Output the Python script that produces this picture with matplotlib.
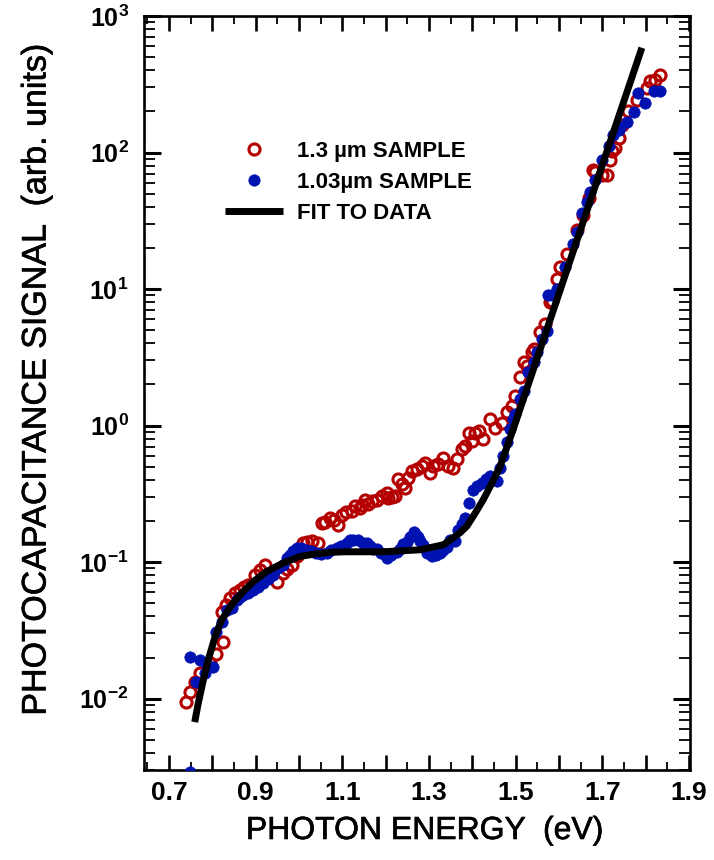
import math
import matplotlib
matplotlib.use('Agg')
import matplotlib.pyplot as plt
import matplotlib.patheffects as pe
from matplotlib.ticker import FixedLocator, FuncFormatter, LogLocator, NullFormatter
from matplotlib.lines import Line2D

plt.rcParams['font.family'] = ['Liberation Sans', 'DejaVu Sans']
plt.rcParams['mathtext.fontset'] = 'custom'
plt.rcParams['mathtext.rm'] = 'Liberation Sans'
plt.rcParams['mathtext.bf'] = 'Liberation Sans:bold'
plt.rcParams['mathtext.it'] = 'Liberation Sans:italic'

# ---------------- data ----------------
red_x = [0.740, 0.748, 0.759, 0.771, 0.794, 0.809, 0.825, 0.821, 0.831, 0.840,
         0.852, 0.863, 0.873, 0.882, 0.898, 0.909, 0.921, 0.933, 0.948, 0.963,
         0.972, 0.983, 0.995, 1.009, 1.018, 1.029, 1.044, 1.052, 1.060, 1.071,
         1.080, 1.090, 1.098, 1.108, 1.121, 1.129, 1.140, 1.144, 1.152, 1.159,
         1.167, 1.179, 1.191, 1.202, 1.206, 1.214, 1.221, 1.229, 1.237, 1.244,
         1.252, 1.260, 1.271, 1.283, 1.291, 1.302, 1.310, 1.321, 1.333, 1.344,
         1.356, 1.364, 1.375, 1.383, 1.391, 1.398, 1.406, 1.414, 1.425, 1.441,
         1.452, 1.468, 1.479, 1.491, 1.498, 1.510, 1.518, 1.525, 1.537, 1.541,
         1.556, 1.568, 1.579, 1.583, 1.595, 1.602, 1.618, 1.641, 1.656, 1.668,
         1.679, 1.683, 1.699, 1.710, 1.718, 1.722, 1.729, 1.737, 1.745, 1.760,
         1.779, 1.803, 1.810, 1.822, 1.833]
red_y = [0.00944, 0.0112, 0.01325, 0.0153, 0.0181, 0.0214, 0.0261, 0.0434, 0.0485, 0.0543,
         0.0594, 0.0625, 0.0658, 0.0681, 0.0807, 0.0878, 0.0955, 0.0807, 0.0719, 0.0830,
         0.0893, 0.0955, 0.111, 0.138, 0.141, 0.142, 0.139, 0.194, 0.198, 0.211,
         0.205, 0.188, 0.223, 0.234, 0.236, 0.256, 0.250, 0.264, 0.287, 0.268,
         0.279, 0.287, 0.303, 0.321, 0.296, 0.302, 0.303, 0.403, 0.376, 0.350,
         0.415, 0.464, 0.477, 0.505, 0.535, 0.451, 0.505, 0.519, 0.582, 0.505,
         0.491, 0.565, 0.670, 0.708, 0.889, 0.771, 0.889, 0.913, 0.792, 1.11,
         0.966, 1.05, 1.25, 1.39, 1.65, 2.26, 2.90, 2.74, 3.44, 3.64,
         4.83, 5.56, 8.02, 8.24, 11.9, 14.5, 18.2, 27.0, 34.8, 46.1,
         74.5, 72.4, 68.4, 68.4, 88.3, 102, 108, 127, 160, 200,
         244, 297, 333, 342, 372]

blue_x = [0.749, 0.748, 0.763, 0.771, 0.782, 0.786, 0.802, 0.809, 0.821, 0.833, 0.844,
          0.856, 0.863, 0.871, 0.882, 0.894, 0.905, 0.917, 0.928, 0.940, 0.952,
          0.963, 0.972, 0.979, 0.986, 0.994, 1.004, 1.017, 1.027, 1.040, 1.050,
          1.064, 1.073, 1.087, 1.097, 1.110, 1.117, 1.125, 1.136, 1.148, 1.156,
          1.164, 1.171, 1.179, 1.189, 1.202, 1.212, 1.225, 1.233, 1.240, 1.248,
          1.256, 1.264, 1.270, 1.275, 1.279, 1.287, 1.294, 1.306, 1.316, 1.325,
          1.333, 1.341, 1.348, 1.360, 1.367, 1.376, 1.383, 1.391, 1.402, 1.411,
          1.421, 1.431, 1.441, 1.456, 1.464, 1.471, 1.480, 1.487, 1.494, 1.498,
          1.510, 1.518, 1.529, 1.541, 1.548, 1.560, 1.572, 1.575, 1.583, 1.595,
          1.614, 1.633, 1.641, 1.652, 1.664, 1.672, 1.683, 1.699, 1.714, 1.725,
          1.737, 1.741, 1.756, 1.772, 1.783, 1.799, 1.818, 1.833]
blue_y = [0.0029, 0.0202, 0.0132, 0.0191, 0.0153, 0.0181, 0.0171, 0.0309, 0.0366, 0.0446, 0.0461,
          0.0528, 0.0556, 0.0575, 0.0594, 0.0625, 0.0658, 0.0701, 0.0754, 0.0807, 0.0908,
          0.0955, 0.108, 0.113, 0.121, 0.127, 0.127, 0.123, 0.121, 0.116, 0.115,
          0.116, 0.123, 0.127, 0.132, 0.139, 0.146, 0.144, 0.146, 0.139, 0.138,
          0.132, 0.125, 0.125, 0.117, 0.108, 0.113, 0.119, 0.125, 0.136, 0.141,
          0.153, 0.167, 0.159, 0.153, 0.142, 0.134, 0.116, 0.110, 0.113, 0.116,
          0.123, 0.129, 0.144, 0.142, 0.173, 0.191, 0.211, 0.272, 0.340, 0.358,
          0.381, 0.403, 0.426, 0.392, 0.493, 0.597, 0.753, 0.940, 1.11, 1.21,
          1.56, 1.79, 2.45, 2.90, 3.44, 4.31, 4.97, 8.98, 8.98, 10.0,
          14.5, 21.5, 26.2, 35.8, 43.7, 51.7, 62.9, 88.3, 111, 135,
          147, 155, 167, 198, 273, 230, 281, 281]

fit_x = [0.759, 0.767, 0.779, 0.790, 0.806, 0.821, 0.844, 0.867, 0.894, 0.925,
         0.963, 1.002, 1.040, 1.071, 1.110, 1.194, 1.279, 1.333, 1.352, 1.371,
         1.387, 1.405, 1.425, 1.445, 1.464, 1.494, 1.533, 1.791]
fit_y = [0.00673, 0.00918, 0.0137, 0.0191, 0.0284, 0.0377, 0.0485, 0.0591, 0.0719, 0.0853,
         0.0984, 0.110, 0.115, 0.118, 0.119, 0.119, 0.123, 0.134, 0.148, 0.164,
         0.183, 0.225, 0.287, 0.38, 0.505, 0.940, 2.19, 585]

x_major = [0.7, 0.8, 0.9, 1.0, 1.1, 1.2, 1.3, 1.4, 1.5, 1.6, 1.7, 1.8, 1.9]
x_labeled = ['0.7', '0.9', '1.1', '1.3', '1.5', '1.7', '1.9']
y_decades = [-2, -1, 0, 1, 2, 3]

legend_labels = ['1.3 \u00b5m SAMPLE', '1.03\u00b5m SAMPLE', 'FIT TO DATA']
xlabel = 'PHOTON ENERGY  (eV)'
ylabel = 'PHOTOCAPACITANCE SIGNAL  (arb. units)'

RED = '#b40000'
BLUE = '#0012b0'

# ---------------- figure ----------------
W, H = 714, 860
fig = plt.figure(figsize=(W / 100, H / 100), dpi=100)
ax = fig.add_axes([144 / W, 1 - 770 / H, (690 - 144) / W, (770 - 16) / H])

ax.plot(red_x, red_y, linestyle='none', marker='o', ms=8.0, mfc='none',
        mec=RED, mew=2.2, zorder=2)
ax.plot(blue_x, blue_y, linestyle='none', marker='o', ms=8.2, mfc=BLUE,
        mec=BLUE, mew=0.5, zorder=3)
ax.plot(fit_x, fit_y, color='black', lw=5.0, solid_capstyle='butt', zorder=4)

ax.set_yscale('log')
ax.set_xlim(0.642, 1.902)
ax.set_ylim(0.003, 1000)

ax.xaxis.set_major_locator(FixedLocator(x_major))
ax.xaxis.set_major_formatter(FuncFormatter(
    lambda v, p: ('%.1f' % v) if ('%.1f' % v) in x_labeled else ''))
ax.xaxis.set_minor_locator(FixedLocator([v + 0.05 for v in [0.6] + x_major]))

ax.yaxis.set_major_locator(FixedLocator([10.0 ** d for d in y_decades]))
ax.yaxis.set_major_formatter(FuncFormatter(
    lambda v, p: r'$\mathbf{10^{%d}}$' % round(math.log10(v))))
ax.yaxis.set_minor_locator(LogLocator(base=10, subs=range(2, 10), numticks=20))
ax.yaxis.set_minor_formatter(NullFormatter())

for s in ax.spines.values():
    s.set_linewidth(1.9)

ax.tick_params(which='both', direction='in', top=True, right=True)
ax.tick_params(axis='x', which='major', length=11, width=1.9, pad=8, labelsize=19)
ax.tick_params(axis='x', which='minor', length=5.5, width=1.3)
ax.tick_params(axis='y', which='major', length=12, width=2.2, pad=11, labelsize=18)
ax.tick_params(axis='y', which='minor', length=8, width=1.3)
fig.canvas.draw()
for lab in ax.get_xticklabels():
    lab.set_fontweight('bold')

heavy = [pe.withStroke(linewidth=0.45, foreground='black')]
fig.text(425 / W, 1 - 831 / H, xlabel, ha='center', va='center', fontsize=23,
         path_effects=heavy)
fig.text(37 / W, 1 - 380 / H, ylabel, ha='center', va='center', rotation=90,
         fontsize=24.5, path_effects=heavy)

handles = [Line2D([], [], linestyle='none', marker='o', ms=8.0, mfc='none',
                  mec=RED, mew=2.2),
           Line2D([], [], linestyle='none', marker='o', ms=8.2, mfc=BLUE,
                  mec=BLUE, mew=0.5),
           Line2D([], [], color='black', lw=5.0, solid_capstyle='butt')]
leg = ax.legend(handles, legend_labels, loc='upper left',
                bbox_to_anchor=(225 / W, 1 - 141 / H),
                bbox_transform=fig.transFigure, frameon=False, borderpad=0,
                borderaxespad=0, handlelength=2.6, handletextpad=0.65,
                labelspacing=0.45, prop={'size': 16, 'weight': 'bold'})

fig.savefig('out.png', dpi=100)
